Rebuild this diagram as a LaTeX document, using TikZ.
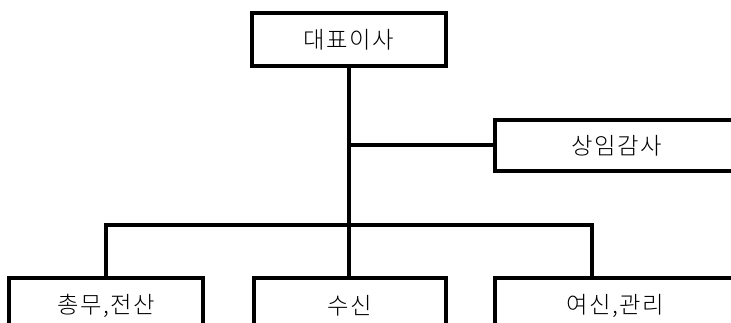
\documentclass[tikz,border=0pt]{standalone}
\usepackage{fontspec}
\setmainfont{Noto Sans CJK KR}[UprightFont={* Light},LetterSpace=6]
\begin{document}
\begin{tikzpicture}[x=0.75pt,y=-0.75pt,
  box/.style={draw=black,line width=3pt,fill=white,inner sep=0pt,font=\fontsize{17.5}{20}\selectfont},
  conn/.style={draw=black,line width=3pt}]
\useasboundingbox (0,0) rectangle (731,323);
\clip (0,0) rectangle (731,323);
\node[box,minimum width=194*0.75pt,minimum height=53*0.75pt] (top) at (349,39.5) {대표이사};
\node[box,minimum width=244*0.75pt,minimum height=51*0.75pt] (audit) at (617,145.5) {상임감사};
\node[box,minimum width=194*0.75pt,minimum height=56*0.75pt] (b1) at (106,306) {총무,전산};
\node[box,minimum width=192*0.75pt,minimum height=56*0.75pt] (b2) at (350,306) {수신};
\node[box,minimum width=240*0.75pt,minimum height=56*0.75pt] (b3) at (615,306) {여신,관리};
\coordinate (busR) at (592,225);
\draw[conn] (top.south) -- (top.south |- b2.north);
\draw[conn] (top.south |- audit.west) -- (audit.west);
\draw[conn] (b1.north) |- (busR) -- (busR |- b3.north);
\end{tikzpicture}
\end{document}
